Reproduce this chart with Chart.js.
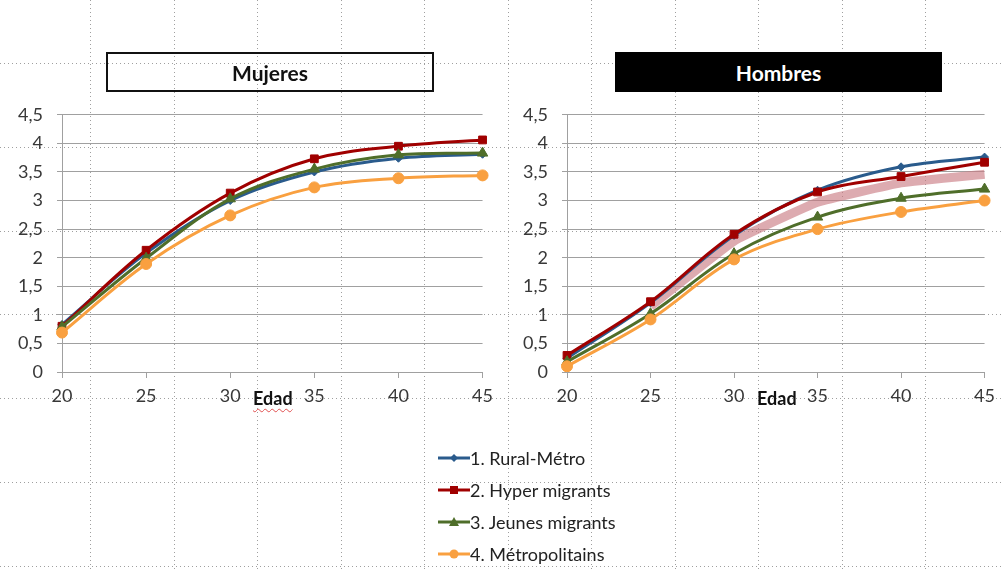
<!DOCTYPE html>
<html>
<head>
<meta charset="utf-8">
<script src="https://cdn.jsdelivr.net/npm/chart.js@4.4.1/dist/chart.umd.min.js"></script>
<style>
  html, body { margin: 0; padding: 0; background: #fff; }
  body { width: 1002px; height: 569px; position: relative; overflow: hidden; font-family: Lato, "DejaVu Sans", sans-serif; }
  canvas { position: absolute; }
  .ttl { position: absolute; top: 52px; height: 40px; box-sizing: border-box; font: bold 21px Lato, sans-serif; display: flex; align-items: center; justify-content: center; }
  .ttl.f { left: 106px; width: 328px; border: 2px solid #111; color: #111; }
  .ttl.m { left: 615px; width: 327px; background: #000; color: #fff; }
  .axt { position: absolute; top: 387px; font: bold 18px Lato, sans-serif; color: #111; }
  .axt.f { left: 253px; text-decoration: underline wavy #e05050; text-decoration-thickness: 1px; text-underline-offset: 3px; }
  .axt.m { left: 757px; }
  #legend { position: absolute; left: 438px; top: 442px; }
  .li { display: flex; align-items: center; height: 32px; font: 18px Lato, sans-serif; color: #222; }
</style>
</head>
<body>
<canvas id="sheet" width="1002" height="569"></canvas>
<canvas id="cF" width="500" height="322" style="left:0;top:90px"></canvas>
<canvas id="cM" width="497" height="322" style="left:505px;top:90px"></canvas>
<div class="ttl f">Mujeres</div>
<div class="ttl m">Hombres</div>
<div class="axt f">Edad</div>
<div class="axt m">Edad</div>
<div id="legend"></div>
<script>
// Age groups on the x axis
const ages = ['20', '25', '30', '35', '40', '45'];

// Series names and styles
const seriesNames = ['1. Rural-Métro', '2. Hyper migrants', '3. Jeunes migrants', '4. Métropolitains'];
const seriesColors = ['#2a5b8c', '#a00000', '#4f6e2a', '#f9a040'];
const seriesMarkers = ['rectRot', 'rect', 'triangle', 'circle'];
const markerSizes = [4, 5.5, 6, 5.5];

// Mujeres
const mujRural = [0.83, 2.08, 3.00, 3.50, 3.74, 3.81];
const mujHyper = [0.80, 2.13, 3.13, 3.73, 3.95, 4.06];
const mujJeunes = [0.79, 1.99, 3.03, 3.55, 3.80, 3.83];
const mujMetro = [0.69, 1.89, 2.74, 3.23, 3.39, 3.44];

// Hombres
const homRural = [0.24, 1.21, 2.39, 3.18, 3.59, 3.76];
const homHyper = [0.29, 1.23, 2.41, 3.15, 3.42, 3.67];
const homJeunes = [0.18, 1.02, 2.07, 2.71, 3.04, 3.20];
const homMetro = [0.10, 0.92, 1.97, 2.50, 2.80, 3.00];

// Highlight band drawn under the Hombres curves
const homBand = [null, 1.15, 2.29, 2.97, 3.31, 3.46];

// Y axis ticks
const yMin = 0, yMax = 4.5, yStep = 0.5;

// Worksheet dotted cell grid behind the charts
(function drawSheet() {
  const c = document.getElementById('sheet').getContext('2d');
  c.strokeStyle = 'rgba(80,80,80,0.55)';
  c.lineWidth = 1;
  c.setLineDash([1, 3]);
  for (let k = 0; k < 7; k++) {
    const y = Math.round(63 + 83.8 * k) + 0.5;
    c.beginPath(); c.moveTo(0, y); c.lineTo(1002, y); c.stroke();
  }
  for (let k = 0; k < 11; k++) {
    const x = Math.round(90 + 83.5 * k) + 0.5;
    c.beginPath(); c.moveTo(x, 0); c.lineTo(x, 569); c.stroke();
  }
})();

Chart.defaults.font.family = 'Lato, "DejaVu Sans", sans-serif';
Chart.defaults.font.size = 18;
Chart.defaults.color = '#383838';

function lineSet(label, data, i) {
  return {
    label, data,
    borderColor: seriesColors[i],
    backgroundColor: seriesColors[i],
    borderWidth: 3,
    pointStyle: seriesMarkers[i],
    pointRadius: markerSizes[i],
    pointBorderWidth: 1,
    tension: 0.35,
    order: 10 - i
  };
}

function makePanel(id, values, band) {
  const datasets = values.map((v, i) => lineSet(seriesNames[i], v, i));
  if (band) {
    datasets.push({
      label: 'band', data: band,
      borderColor: 'rgba(200,120,128,0.62)',
      borderWidth: 9,
      pointRadius: 0,
      tension: 0.1,
      order: 20
    });
  }
  const gridColor = '#a0a0a0';
  return new Chart(document.getElementById(id), {
    type: 'line',
    data: { labels: ages, datasets },
    options: {
      responsive: false,
      animation: false,
      devicePixelRatio: 1,
      layout: { padding: { top: 14, right: 16, left: 0, bottom: 0 } },
      plugins: { legend: { display: false }, tooltip: { enabled: false } },
      scales: {
        x: {
          type: 'category',
          offset: false,
          grid: { display: true, drawOnChartArea: false, tickLength: 6, color: gridColor },
          border: { display: true, color: gridColor, width: 1 },
          ticks: { padding: 7, maxRotation: 0 },
          afterFit: s => { s.height = 40; }
        },
        y: {
          min: yMin, max: yMax,
          grid: { color: gridColor, tickLength: 5, lineWidth: 1 },
          border: { display: true, color: gridColor, width: 1 },
          ticks: {
            stepSize: yStep, padding: 14,
            callback: v => String(v).replace('.', ',')
          },
          afterFit: s => { s.width = 62; }
        }
      }
    }
  });
}

makePanel('cF', [mujRural, mujHyper, mujJeunes, mujMetro]);
makePanel('cM', [homRural, homHyper, homJeunes, homMetro], homBand);

// Legend: line segment with marker, then the series name
const legend = document.getElementById('legend');
function markerShape(i) {
  const col = seriesColors[i];
  const s = seriesMarkers[i];
  if (s === 'rectRot') return `<polygon points="16,4 20,8 16,12 12,8" fill="${col}"/>`;
  if (s === 'rect') return `<rect x="12" y="4" width="8" height="8" fill="${col}"/>`;
  if (s === 'triangle') return `<polygon points="16,3 21,12 11,12" fill="${col}"/>`;
  return `<circle cx="16" cy="8" r="4.5" fill="${col}"/>`;
}
seriesNames.forEach((name, i) => {
  const row = document.createElement('div');
  row.className = 'li';
  row.innerHTML = `<svg width="32" height="16" viewBox="0 0 32 16"><line x1="0" y1="8" x2="32" y2="8" stroke="${seriesColors[i]}" stroke-width="3"/>${markerShape(i)}</svg><span>${name}</span>`;
  legend.appendChild(row);
});
</script>
</body>
</html>
